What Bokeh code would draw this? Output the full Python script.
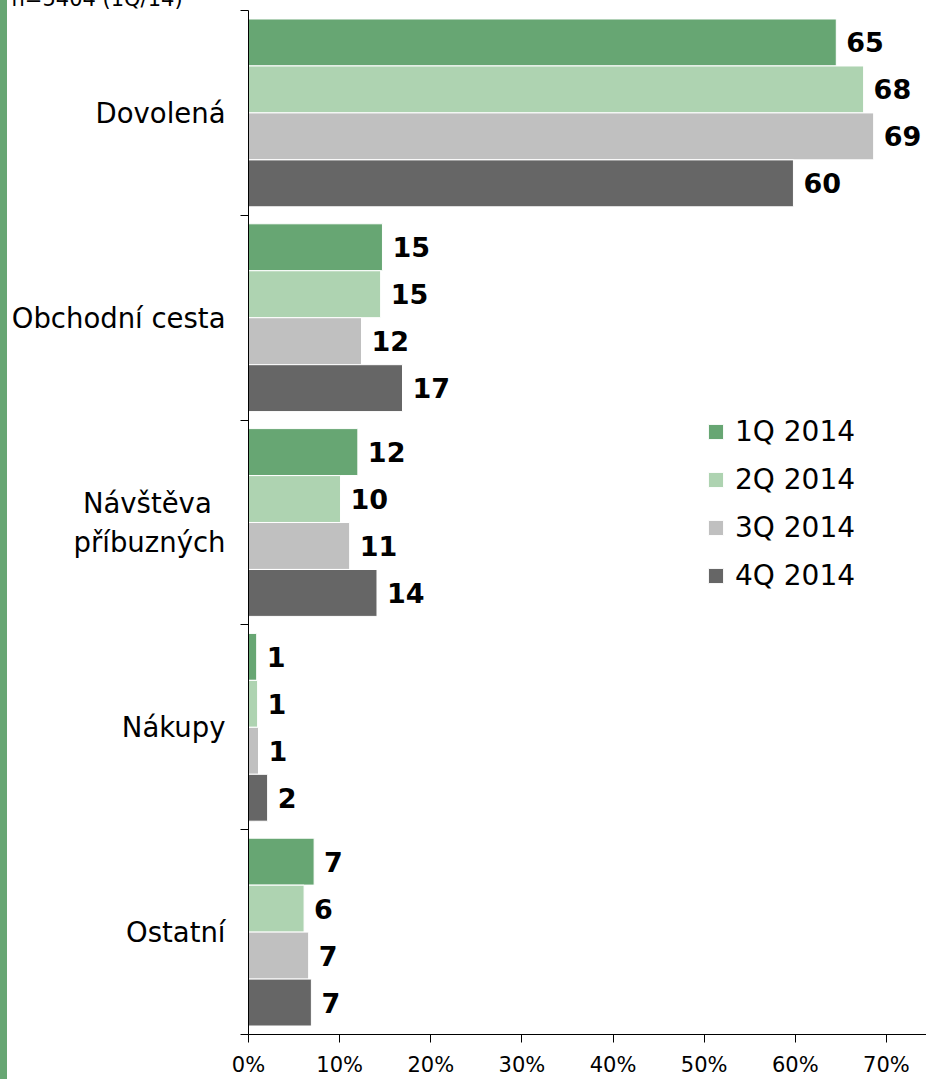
from bokeh.plotting import figure
from bokeh.models import Range1d, FixedTicker, Legend, LegendItem, ColumnDataSource
from bokeh.core.properties import value
from bokeh.embed import file_html
from bokeh.resources import INLINE

categories = ["Dovolená", "Obchodní cesta", "Návštěva\u2002\npříbuzných", "Nákupy", "Ostatní"]
series = ["1Q 2014", "2Q 2014", "3Q 2014", "4Q 2014"]
q1 = [64.5, 14.7, 12.0, 0.9, 7.2]
q2 = [67.5, 14.5, 10.1, 1.0, 6.1]
q3 = [68.6, 12.4, 11.1, 1.1, 6.6]
q4 = [59.8, 16.9, 14.1, 2.1, 6.9]
x_ticks = [0, 10, 20, 30, 40, 50, 60, 70]
note = "n=5404 (1Q/14)"

colors = ["#67A673", "#AED3B1", "#C0C0C0", "#666666"]
offsets = [-0.344, -0.1146, 0.1146, 0.344]
bar_h = 0.229
FONT = "DejaVu Sans"
TOP = 40  # top border of the figure, partly hidden above the page

p = figure(width=926, height=1079 + TOP - 10, output_backend="svg", toolbar_location=None,
           x_range=Range1d(0, 74.4), y_range=Range1d(5, 0),
           min_border_left=248, min_border_right=0, min_border_top=TOP, min_border_bottom=44,
           outline_line_color=None, border_fill_alpha=0, background_fill_color="white",
           styles={"background": "linear-gradient(to right, #67A673 0px, #67A673 7px, white 7px)",
                   "margin-top": f"-{TOP - 10}px"})
p.grid.visible = False

p.title.text = note
p.title.align = "left"
p.title.offset = -237
p.title.standoff = 0
p.title.vertical_align = "bottom"
p.title.text_font = FONT
p.title.text_font_size = "21px"
p.title.text_font_style = "normal"
p.title.text_color = "black"

items = []
for k, vals in enumerate([q1, q2, q3, q4]):
    ys = [i + 0.5 + offsets[k] for i in range(len(categories))]
    src = ColumnDataSource(dict(y=ys, right=vals, lab=[str(int(v + 0.5)) for v in vals]))
    r = p.hbar(y="y", right="right", left=0, height=bar_h, source=src,
               fill_color=colors[k], line_color="white", line_width=1)
    p.text(x="right", y="y", text="lab", source=src, x_offset=10,
           text_baseline="middle", text_align="left", text_font=value(FONT),
           text_font_style="bold", text_font_size="27px", text_color="black")
    items.append(LegendItem(label=series[k], renderers=[r]))

# x axis
xa = p.xaxis[0]
xa.ticker = FixedTicker(ticks=x_ticks)
xa.major_label_overrides = {t: f"{t}%" for t in x_ticks}
xa.major_tick_out = 8
xa.major_tick_in = 0
xa.minor_tick_out = 0
xa.minor_tick_in = 0
xa.major_label_text_font = FONT
xa.major_label_text_font_size = "21px"
xa.major_label_text_color = "black"
xa.major_label_standoff = 10
xa.axis_line_color = "black"

# y axis
ya = p.yaxis[0]
ya.ticker = FixedTicker(ticks=[i + 0.5 for i in range(len(categories))],
                        minor_ticks=list(range(len(categories) + 1)))
ya.major_label_overrides = {i + 0.5: c for i, c in enumerate(categories)}
ya.major_tick_out = 0
ya.major_tick_in = 0
ya.minor_tick_out = 8
ya.minor_tick_in = 0
ya.major_label_text_font = FONT
ya.major_label_text_font_size = "27.5px"
ya.major_label_text_color = "black"
ya.major_label_standoff = 15
ya.axis_line_color = "black"

legend = Legend(items=items, location=(458, 435), border_line_color=None,
                background_fill_alpha=0, label_text_font=FONT, label_text_font_size="28px",
                label_text_color="black",
                glyph_width=19, glyph_height=19, label_height=48, spacing=0, padding=0,
                margin=0, label_standoff=10)
p.add_layout(legend)

open("out.html", "w").write(file_html(p, INLINE))
